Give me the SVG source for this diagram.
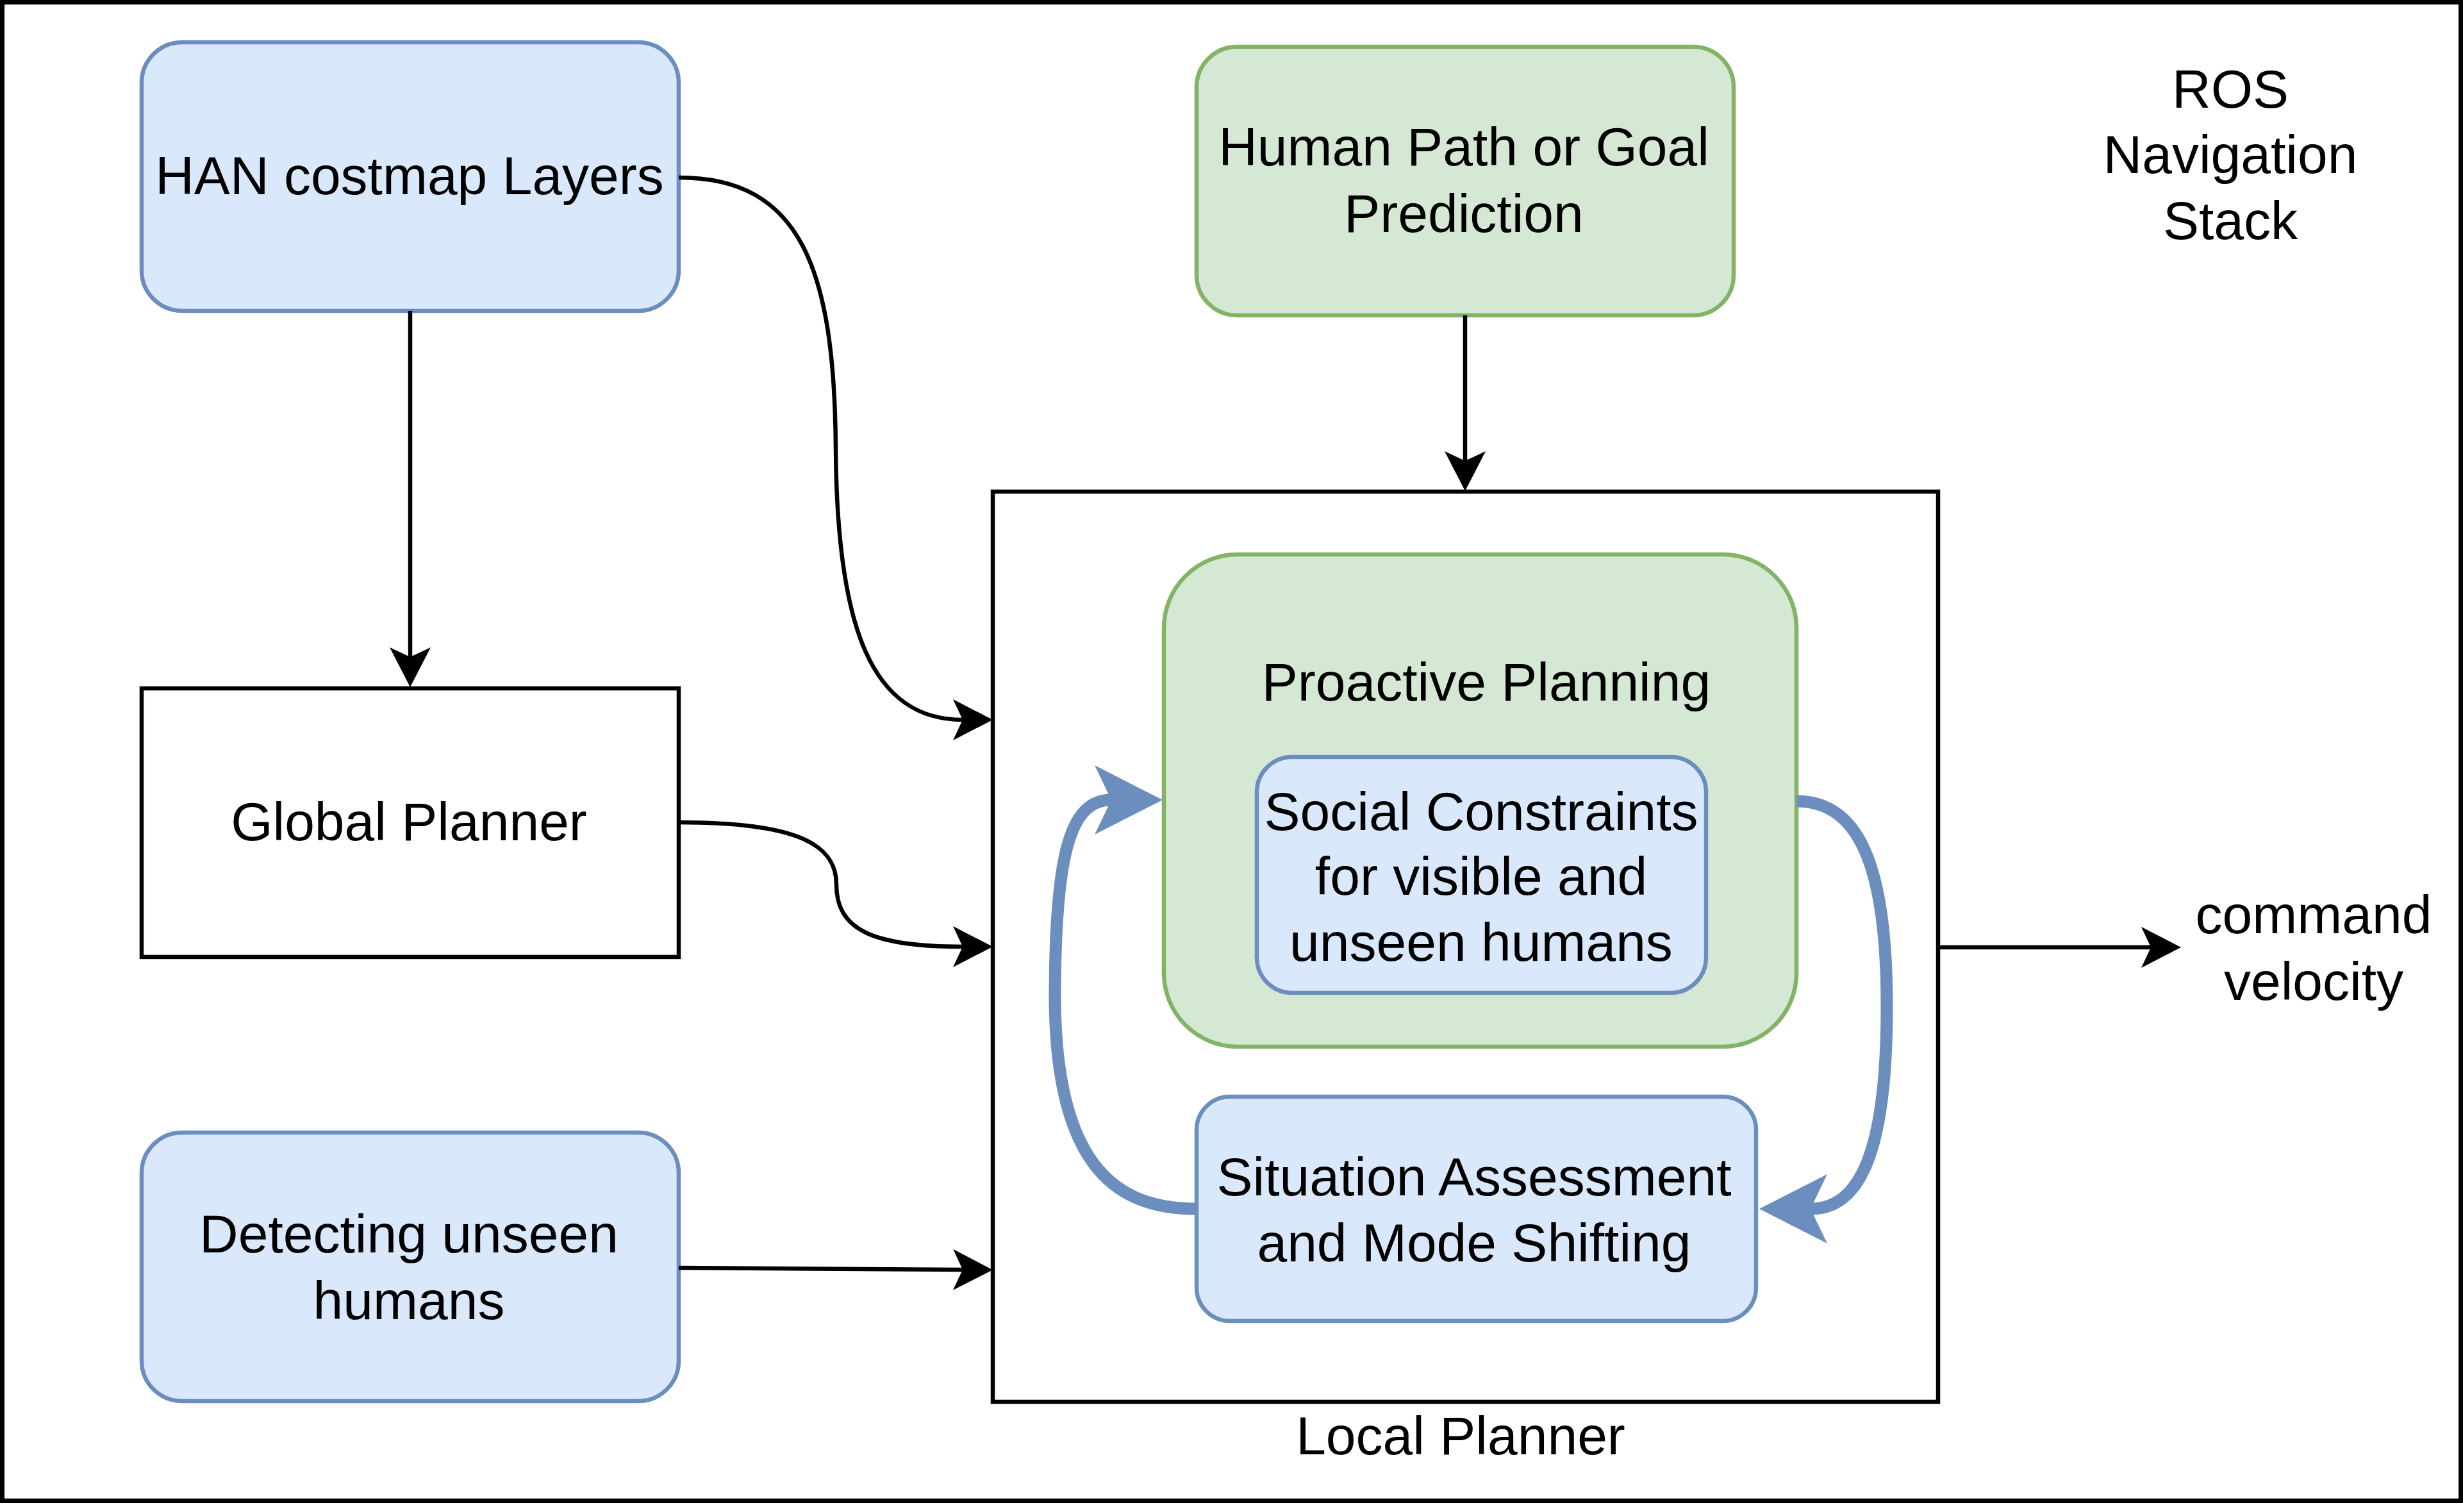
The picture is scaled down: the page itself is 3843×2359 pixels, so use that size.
<svg xmlns="http://www.w3.org/2000/svg" width="3843" height="2359" viewBox="0 0 3843 2359">
<style>
.blue{fill:#dae8fc;stroke:#6c8ebf;stroke-width:6.5}
.green{fill:#d5e8d4;stroke:#82b366;stroke-width:6.5}
.plain{fill:#ffffff;stroke:#000000;stroke-width:6.5}
.t{font-family:"Liberation Sans",Arial,sans-serif;font-size:84px;fill:#000000;text-anchor:middle}
.edge{fill:none;stroke:#000000;stroke-width:6.5}
.loop{fill:none;stroke:#6c8ebf;stroke-width:19}
</style>
<defs>
<marker id="arr" markerUnits="userSpaceOnUse" viewBox="0 0 62 64" markerWidth="62" markerHeight="64" refX="15" refY="32" orient="auto">
<path d="M0 0 L62 32 L0 64 L15 32 Z" fill="#000000"/>
</marker>
<marker id="barr" markerUnits="userSpaceOnUse" viewBox="0 0 106 108" markerWidth="106" markerHeight="108" refX="26" refY="54" orient="auto">
<path d="M0 0 L106 54 L0 108 L26 54 Z" fill="#6c8ebf"/>
</marker>
</defs>
<rect x="0" y="0" width="3843" height="2359" fill="#ffffff"/>
<g id="ros-stack">
<rect x="3.5" y="3.5" width="3836" height="2338" fill="none" stroke="#000000" stroke-width="7"/>
<text class="t" x="3480" y="168">ROS</text>
<text class="t" x="3480" y="270">Navigation</text>
<text class="t" x="3480" y="373">Stack</text>
</g>
<g id="local-planner">
<rect class="plain" x="1549" y="767" width="1475" height="1420"/>
<text class="t" x="2279" y="2269">Local Planner</text>
</g>
<g id="han-costmap">
<rect class="blue" x="221" y="66" width="838" height="419" rx="63" ry="63"/>
<text class="t" x="639" y="303">HAN costmap Layers</text>
</g>
<g id="human-path">
<rect class="green" x="1867" y="73" width="838" height="419" rx="63" ry="63"/>
<text class="t" x="2284" y="258">Human Path or Goal</text>
<text class="t" x="2284" y="362">Prediction</text>
</g>
<g id="global-planner">
<rect class="plain" x="221" y="1074" width="838" height="419"/>
<text class="t" x="638" y="1311">Global Planner</text>
</g>
<g id="detecting">
<rect class="blue" x="221" y="1767" width="838" height="419" rx="63" ry="63"/>
<text class="t" x="638" y="1954">Detecting unseen</text>
<text class="t" x="638" y="2058">humans</text>
</g>
<g id="proactive">
<rect class="green" x="1816" y="865" width="987" height="768" rx="115" ry="115"/>
<text class="t" x="2319" y="1093">Proactive Planning</text>
</g>
<g id="social">
<rect class="blue" x="1961" y="1181" width="701" height="368" rx="55" ry="55"/>
<text class="t" x="2311" y="1295">Social Constraints</text>
<text class="t" x="2311" y="1396">for visible and</text>
<text class="t" x="2311" y="1499">unseen humans</text>
</g>
<g id="situation">
<rect class="blue" x="1867" y="1711" width="873" height="350" rx="52" ry="52"/>
<text class="t" x="2300" y="1865">Situation Assessment</text>
<text class="t" x="2300" y="1968">and Mode Shifting</text>
</g>
<g id="command-velocity">
<text class="t" x="3610" y="1456">command</text>
<text class="t" x="3610" y="1560">velocity</text>
</g>
<g id="connectors">
<path class="edge" d="M640 485 L640 1025" marker-end="url(#arr)"/>
<path class="edge" d="M2286 492 L2286 719" marker-end="url(#arr)"/>
<path class="edge" d="M1059 277 C1250 277 1302 420 1304 700 C1306 980 1360 1123 1502 1123" marker-end="url(#arr)"/>
<path class="edge" d="M1059 1283 C1250 1283 1305 1320 1305 1380 C1305 1450 1360 1477 1502 1477" marker-end="url(#arr)"/>
<path class="edge" d="M1059 1978 L1502 1981" marker-end="url(#arr)"/>
<path class="edge" d="M3024 1478 L3356 1478" marker-end="url(#arr)"/>
<path class="loop" d="M2803 1250 C2900 1250 2944 1350 2944 1570 C2944 1790 2905 1886 2825 1886" marker-end="url(#barr)"/>
<path class="loop" d="M1867 1886 C1750 1886 1648 1830 1646 1560 C1646 1330 1670 1248 1734 1248" marker-end="url(#barr)"/>
</g>
</svg>
